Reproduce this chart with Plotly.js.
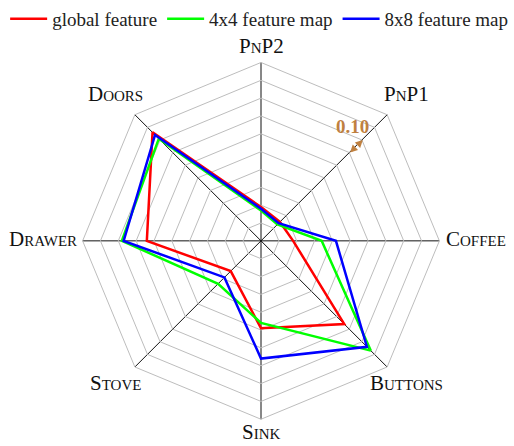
<!DOCTYPE html>
<html>
<head>
<meta charset="utf-8">
<script src="https://cdn.plot.ly/plotly-3.0.1.min.js"></script>
<style>html,body{margin:0;padding:0;background:#fff;}#chart{width:514px;height:446px;}</style>
</head>
<body>
<div id="chart"></div>
<script>
const categories = ['PnP2', 'PnP1', 'Coffee', 'Buttons', 'Sink', 'Stove', 'Drawer', 'Doors'];
const globalFeature = [0.19, 0.15, 0.18, 0.66, 0.49, 0.24, 0.64, 0.86];
const map4x4 = [0.17, 0.13, 0.34, 0.87, 0.46, 0.34, 0.78, 0.81];
const map8x8 = [0.18, 0.14, 0.42, 0.84, 0.66, 0.29, 0.77, 0.84];
const seriesNames = ['global feature', '4x4 feature map', '8x8 feature map'];
const seriesColors = ['#ff0000', '#00ff00', '#0000ff'];
const scaleLabel = '0.10';
const scaleFrom = 0.7, scaleTo = 0.8, scaleAxis = 'PnP1';

const W = 514, H = 446;
const cx = 261, cy = 239, R = 180;
const dom = {x: [(cx - R) / W, (cx + R) / W], y: [(H - (cy + R)) / H, (H - (cy - R)) / H]};
const serif = 'Liberation Serif, Times New Roman, serif';

function closed(a) { return a.concat([a[0]]); }
const allSeries = [globalFeature, map4x4, map8x8];
const traces = allSeries.map((vals, i) => ({
  type: 'scatterpolar',
  r: closed(vals),
  theta: closed(categories),
  mode: 'lines',
  name: seriesNames[i],
  line: {color: seriesColors[i], width: 2.5},
  hoverinfo: 'skip'
}));

const N = categories.length;
function angleOf(i) { return (90 - i * 360 / N) * Math.PI / 180; }
function px(v, a) { return [cx + v * R * Math.cos(a), cy - v * R * Math.sin(a)]; }

// category labels placed just outside each axis end
const labelAnns = categories.map((c, i) => {
  const a = angleOf(i);
  const v = px(1, a);
  const dx = Math.cos(a), dy = Math.sin(a);
  let x = v[0], y = v[1], xa = 'center';
  if (Math.abs(dx) < 0.01) { y = v[1] - Math.sign(dy) * 14.5; }
  else if (Math.abs(dy) < 0.01) { x = v[0] + Math.sign(dx) * 2.5; xa = dx > 0 ? 'left' : 'right'; }
  else { x = v[0] + Math.sign(dx) * 18.5; y = v[1] - Math.sign(dy) * 18.5; }
  y -= 2;
  return {xref: 'paper', yref: 'paper', x: x / W, y: 1 - y / H, text: c, showarrow: false,
    xanchor: xa, yanchor: 'middle',
    font: {family: serif, size: 21, color: '#111', variant: 'small-caps'}};
});

// scale arrow along PnP1 axis, computed from polar geometry
const sa = angleOf(categories.indexOf(scaleAxis));
const p0 = px(scaleFrom, sa), p1 = px(scaleTo, sa);
const pm = [(p0[0] + p1[0]) / 2, (p0[1] + p1[1]) / 2];
const brown = '#bf8040';

function halfArrow(pt) {
  return {xref: 'paper', yref: 'paper', x: pt[0] / W, y: 1 - pt[1] / H,
    ax: pm[0] - pt[0], ay: pm[1] - pt[1], axref: 'pixel', ayref: 'pixel',
    text: '', showarrow: true, arrowhead: 2, arrowsize: 1, arrowwidth: 1.5,
    arrowcolor: brown, standoff: 0, startstandoff: 0};
}

const layout = {
  width: W, height: H,
  margin: {l: 0, r: 0, t: 0, b: 0},
  paper_bgcolor: '#fff',
  showlegend: true,
  legend: {orientation: 'h', x: 0.01, y: 1.01, xanchor: 'left', yanchor: 'top',
    font: {family: serif, size: 19, color: '#222'}, itemwidth: 37, tracegroupgap: 0},
  polar: {
    domain: dom,
    bgcolor: '#fff',
    gridshape: 'linear',
    radialaxis: {range: [0, 1], dtick: 0.1, showticklabels: false, ticks: '',
      showline: false, gridcolor: '#bdbdbd', gridwidth: 1},
    angularaxis: {direction: 'clockwise', rotation: 90, type: 'category',
      categoryarray: categories, showline: true, linecolor: '#bdbdbd', linewidth: 1,
      gridcolor: '#111', gridwidth: 1, ticks: '', showticklabels: false}
  },
  annotations: labelAnns.concat([
    halfArrow(p0), halfArrow(p1),
    {xref: 'paper', yref: 'paper', x: (pm[0] - 4) / W, y: 1 - (pm[1] - 20) / H,
     text: '<b>' + scaleLabel + '</b>', showarrow: false, xanchor: 'center', yanchor: 'middle',
     font: {family: serif, size: 19, color: brown}}
  ])
};

Plotly.newPlot('chart', traces, layout, {staticPlot: true});
</script>
</body>
</html>
